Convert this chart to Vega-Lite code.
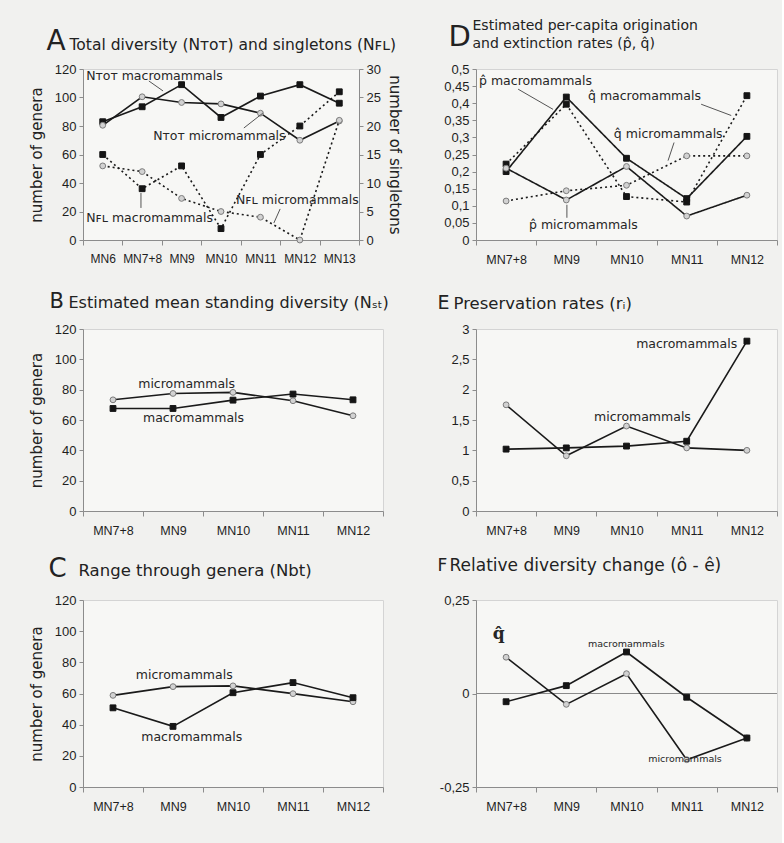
{
"$schema": "https://vega.github.io/schema/vega-lite/v6.json",
"background": "#f1f1ef",
"padding": {"left": 28, "top": 17, "right": 4, "bottom": 41},
"autosize": {"type": "pad"},
"bounds": "flush",
"columns": 2,
"spacing": {"row": 89, "column": 93},
"datasets": {
"A": [
{"period":"MN6","measure":"NTOT","taxon":"macro","value":83},
{"period":"MN7+8","measure":"NTOT","taxon":"macro","value":93.5},
{"period":"MN9","measure":"NTOT","taxon":"macro","value":109},
{"period":"MN10","measure":"NTOT","taxon":"macro","value":86},
{"period":"MN11","measure":"NTOT","taxon":"macro","value":101},
{"period":"MN12","measure":"NTOT","taxon":"macro","value":109},
{"period":"MN13","measure":"NTOT","taxon":"macro","value":96},
{"period":"MN6","measure":"NTOT","taxon":"micro","value":80.5},
{"period":"MN7+8","measure":"NTOT","taxon":"micro","value":100.5},
{"period":"MN9","measure":"NTOT","taxon":"micro","value":96.5},
{"period":"MN10","measure":"NTOT","taxon":"micro","value":95.5},
{"period":"MN11","measure":"NTOT","taxon":"micro","value":89},
{"period":"MN12","measure":"NTOT","taxon":"micro","value":70},
{"period":"MN13","measure":"NTOT","taxon":"micro","value":83.5},
{"period":"MN6","measure":"NFL","taxon":"macro","value":15},
{"period":"MN7+8","measure":"NFL","taxon":"macro","value":9},
{"period":"MN9","measure":"NFL","taxon":"macro","value":13},
{"period":"MN10","measure":"NFL","taxon":"macro","value":2},
{"period":"MN11","measure":"NFL","taxon":"macro","value":15},
{"period":"MN12","measure":"NFL","taxon":"macro","value":20},
{"period":"MN13","measure":"NFL","taxon":"macro","value":26},
{"period":"MN6","measure":"NFL","taxon":"micro","value":13},
{"period":"MN7+8","measure":"NFL","taxon":"micro","value":12},
{"period":"MN9","measure":"NFL","taxon":"micro","value":7.3},
{"period":"MN10","measure":"NFL","taxon":"micro","value":5},
{"period":"MN11","measure":"NFL","taxon":"micro","value":4},
{"period":"MN12","measure":"NFL","taxon":"micro","value":0},
{"period":"MN13","measure":"NFL","taxon":"micro","value":21}
],
"A_ann": [
{"u":0.08,"v":115,"label":"Nᴛᴏᴛ macromammals"},
{"u":1.78,"v":73,"label":"Nᴛᴏᴛ micromammals"},
{"u":0.08,"v":15.4,"label":"Nꜰʟ macromammals"},
{"u":3.88,"v":28,"label":"Nꜰʟ micromammals"}
],
"A_lead": [
{"u":1.67,"v":111.6,"u2":2.03,"v2":104.6},
{"u":4.08,"v":78.6,"u2":4.56,"v2":89},
{"u":1.47,"v":33,"u2":1.47,"v2":22.5},
{"u":5.0,"v":21.8,"u2":4.84,"v2":11.9}
],
"D": [
{"period":"MN7+8","rate":"p","taxon":"macro","value":0.2},
{"period":"MN9","rate":"p","taxon":"macro","value":0.418},
{"period":"MN10","rate":"p","taxon":"macro","value":0.239},
{"period":"MN11","rate":"p","taxon":"macro","value":0.121},
{"period":"MN12","rate":"p","taxon":"macro","value":0.303},
{"period":"MN7+8","rate":"q","taxon":"macro","value":0.222},
{"period":"MN9","rate":"q","taxon":"macro","value":0.397},
{"period":"MN10","rate":"q","taxon":"macro","value":0.127},
{"period":"MN11","rate":"q","taxon":"macro","value":0.111},
{"period":"MN12","rate":"q","taxon":"macro","value":0.422},
{"period":"MN7+8","rate":"p","taxon":"micro","value":0.21},
{"period":"MN9","rate":"p","taxon":"micro","value":0.117},
{"period":"MN10","rate":"p","taxon":"micro","value":0.215},
{"period":"MN11","rate":"p","taxon":"micro","value":0.07},
{"period":"MN12","rate":"p","taxon":"micro","value":0.131},
{"period":"MN7+8","rate":"q","taxon":"micro","value":0.114},
{"period":"MN9","rate":"q","taxon":"micro","value":0.144},
{"period":"MN10","rate":"q","taxon":"micro","value":0.16},
{"period":"MN11","rate":"q","taxon":"micro","value":0.246},
{"period":"MN12","rate":"q","taxon":"micro","value":0.246}
],
"D_ann": [
{"u":0.05,"v":0.464,"label":"p̂ macromammals"},
{"u":1.86,"v":0.42,"label":"q̂ macromammals"},
{"u":2.29,"v":0.309,"label":"q̂ micromammals"},
{"u":0.88,"v":0.045,"label":"p̂ micromammals"}
],
"D_lead": [
{"u":0.7,"v":0.441,"u2":1.28,"v2":0.382},
{"u":3.74,"v":0.397,"u2":4.24,"v2":0.364},
{"u":3.29,"v":0.285,"u2":3.19,"v2":0.232},
{"u":1.51,"v":0.103,"u2":1.51,"v2":0.065}
],
"B": [
{"period":"MN7+8","taxon":"micro","value":73.3},
{"period":"MN9","taxon":"micro","value":77.5},
{"period":"MN10","taxon":"micro","value":78.2},
{"period":"MN11","taxon":"micro","value":72.7},
{"period":"MN12","taxon":"micro","value":62.8},
{"period":"MN7+8","taxon":"macro","value":67.6},
{"period":"MN9","taxon":"macro","value":67.6},
{"period":"MN10","taxon":"macro","value":73.1},
{"period":"MN11","taxon":"macro","value":77.1},
{"period":"MN12","taxon":"macro","value":73.3}
],
"B_ann": [
{"u":0.92,"v":83.7,"label":"micromammals"},
{"u":1.0,"v":61.3,"label":"macromammals"}
],
"E": [
{"period":"MN7+8","taxon":"micro","value":1.75},
{"period":"MN9","taxon":"micro","value":0.91},
{"period":"MN10","taxon":"micro","value":1.4},
{"period":"MN11","taxon":"micro","value":1.04},
{"period":"MN12","taxon":"micro","value":1.0},
{"period":"MN7+8","taxon":"macro","value":1.02},
{"period":"MN9","taxon":"macro","value":1.04},
{"period":"MN10","taxon":"macro","value":1.07},
{"period":"MN11","taxon":"macro","value":1.15},
{"period":"MN12","taxon":"macro","value":2.8}
],
"E_ann": [
{"u":2.66,"v":2.75,"label":"macromammals"},
{"u":1.96,"v":1.55,"label":"micromammals"}
],
"C": [
{"period":"MN7+8","taxon":"micro","value":58.8},
{"period":"MN9","taxon":"micro","value":64.4},
{"period":"MN10","taxon":"micro","value":64.9},
{"period":"MN11","taxon":"micro","value":59.9},
{"period":"MN12","taxon":"micro","value":54.7},
{"period":"MN7+8","taxon":"macro","value":50.8},
{"period":"MN9","taxon":"macro","value":38.9},
{"period":"MN10","taxon":"macro","value":60.5},
{"period":"MN11","taxon":"macro","value":67},
{"period":"MN12","taxon":"macro","value":57.3}
],
"C_ann": [
{"u":0.88,"v":71.8,"label":"micromammals"},
{"u":0.97,"v":32,"label":"macromammals"}
],
"F": [
{"period":"MN7+8","taxon":"micro","value":0.097},
{"period":"MN9","taxon":"micro","value":-0.029},
{"period":"MN10","taxon":"micro","value":0.053},
{"period":"MN11","taxon":"micro","value":-0.177},
{"period":"MN12","taxon":"micro","value":-0.119},
{"period":"MN7+8","taxon":"macro","value":-0.022},
{"period":"MN9","taxon":"macro","value":0.021},
{"period":"MN10","taxon":"macro","value":0.111},
{"period":"MN11","taxon":"macro","value":-0.01},
{"period":"MN12","taxon":"macro","value":-0.119}
],
"F_ann": [
{"u":1.86,"v":0.133,"label":"macromammals"},
{"u":2.86,"v":-0.175,"label":"micromammals"}
],
"F_q": [
{"u":0.28,"v":0.16,"label":"q̂"}
]
},
"concat": [
{
"width": 276, "height": 171,
"resolve": {"scale": {"x":"independent","y":"independent"}},
"layer": [
{"data":{"name":"A"},"transform":[{"filter":"datum.measure === 'NTOT'"}],"mark":{"type":"line"},
"encoding":{
"x":{"field":"period","type":"nominal","title":null,"scale":{"type":"band","domain":["MN6","MN7+8","MN9","MN10","MN11","MN12","MN13"],"paddingInner":0,"paddingOuter":0},"axis":{"labelFontSize":12}},
"y":{"field":"value","type":"quantitative","scale":{"domain":[0,120],"nice":false},"axis":{"values":[0,20,40,60,80,100,120],"title":"number of genera","titlePadding":10}},
"detail":{"field":"taxon"},
"order":{"value":null}}},
{"data":{"name":"A"},"transform":[{"filter":"datum.measure === 'NTOT'"}],"mark":{"type":"point","filled":true},
"encoding":{
"x":{"field":"period","type":"nominal","scale":{"type":"band","domain":["MN6","MN7+8","MN9","MN10","MN11","MN12","MN13"],"paddingInner":0,"paddingOuter":0},"axis":null},
"y":{"field":"value","type":"quantitative","scale":{"domain":[0,120],"nice":false},"axis":null},
"shape":{"field":"taxon","type":"nominal","scale":{"domain":["macro","micro"],"range":["square","circle"]},"legend":null},
"fill":{"field":"taxon","type":"nominal","scale":{"domain":["macro","micro"],"range":["#151515","#d2d2d2"]},"legend":null},
"stroke":{"field":"taxon","type":"nominal","scale":{"domain":["macro","micro"],"range":["#151515","#7c7c7c"]},"legend":null}}},
{"data":{"name":"A"},"transform":[{"filter":"datum.measure === 'NFL'"}],"mark":{"type":"line","strokeDash":[2,3]},
"encoding":{
"x":{"field":"period","type":"nominal","scale":{"type":"band","domain":["MN6","MN7+8","MN9","MN10","MN11","MN12","MN13"],"paddingInner":0,"paddingOuter":0},"axis":null},
"y":{"field":"value","type":"quantitative","scale":{"domain":[0,30],"nice":false},"axis":{"orient":"right","values":[0,5,10,15,20,25,30],"title":"number of singletons","titlePadding":6}},
"detail":{"field":"taxon"},
"order":{"value":null}}},
{"data":{"name":"A"},"transform":[{"filter":"datum.measure === 'NFL'"}],"mark":{"type":"point","filled":true},
"encoding":{
"x":{"field":"period","type":"nominal","scale":{"type":"band","domain":["MN6","MN7+8","MN9","MN10","MN11","MN12","MN13"],"paddingInner":0,"paddingOuter":0},"axis":null},
"y":{"field":"value","type":"quantitative","scale":{"domain":[0,30],"nice":false},"axis":null},
"shape":{"field":"taxon","type":"nominal","scale":{"domain":["macro","micro"],"range":["square","circle"]},"legend":null},
"fill":{"field":"taxon","type":"nominal","scale":{"domain":["macro","micro"],"range":["#151515","#d2d2d2"]},"legend":null},
"stroke":{"field":"taxon","type":"nominal","scale":{"domain":["macro","micro"],"range":["#151515","#7c7c7c"]},"legend":null}}},
{"data":{"name":"A_lead"},"mark":{"type":"rule"},
"encoding":{
"x":{"field":"u","type":"quantitative","scale":{"domain":[0,7],"nice":false,"zero":false},"axis":null},
"y":{"field":"v","type":"quantitative","scale":{"domain":[0,120],"nice":false},"axis":null},
"x2":{"field":"u2"},"y2":{"field":"v2"}}},
{"data":{"name":"A_ann"},"mark":{"type":"text"},
"encoding":{
"x":{"field":"u","type":"quantitative","scale":{"domain":[0,7],"nice":false,"zero":false},"axis":{"orient":"top","labels":false,"ticks":false,"domain":false,"title":"Total diversity (Nᴛᴏᴛ) and singletons (Nꜰʟ)","titleX":-14,"titleY":-20,"titleFontSize":15.5,"titleAlign":"left","titleBaseline":"alphabetic","titleAngle":0}},
"y":{"field":"v","type":"quantitative","scale":{"domain":[0,120],"nice":false},"axis":{"orient":"left","labels":false,"ticks":false,"domain":false,"title":"A","titleX":-37,"titleY":-20,"titleFontSize":28,"titleAlign":"left","titleBaseline":"alphabetic","titleAngle":0}},
"text":{"field":"label"}}}
]
},
{
"width": 301, "height": 171,
"resolve": {"scale": {"x":"independent","y":"independent"}},
"layer": [
{"data":{"name":"D"},"mark":{"type":"line"},
"encoding":{
"x":{"field":"period","type":"nominal","title":null,"scale":{"type":"band","domain":["MN7+8","MN9","MN10","MN11","MN12"],"paddingInner":0,"paddingOuter":0}},
"y":{"field":"value","type":"quantitative","scale":{"domain":[0,0.5],"nice":false},"axis":{"values":[0,0.05,0.1,0.15,0.2,0.25,0.3,0.35,0.4,0.45,0.5],"labelExpr":"replace(replace(format(datum.value, '.2~f'), '.', ','), '−', '-')","title":null}},
"strokeDash":{"field":"rate","type":"nominal","scale":{"domain":["p","q"],"range":[[1,0],[2,3]]},"legend":null},
"detail":{"field":"taxon"},
"order":{"value":null}}},
{"data":{"name":"D"},"mark":{"type":"point","filled":true},
"encoding":{
"x":{"field":"period","type":"nominal","scale":{"type":"band","domain":["MN7+8","MN9","MN10","MN11","MN12"],"paddingInner":0,"paddingOuter":0},"axis":null},
"y":{"field":"value","type":"quantitative","scale":{"domain":[0,0.5],"nice":false},"axis":null},
"shape":{"field":"taxon","type":"nominal","scale":{"domain":["macro","micro"],"range":["square","circle"]},"legend":null},
"fill":{"field":"taxon","type":"nominal","scale":{"domain":["macro","micro"],"range":["#151515","#d2d2d2"]},"legend":null},
"stroke":{"field":"taxon","type":"nominal","scale":{"domain":["macro","micro"],"range":["#151515","#7c7c7c"]},"legend":null}}},
{"data":{"name":"D_lead"},"mark":{"type":"rule"},
"encoding":{
"x":{"field":"u","type":"quantitative","scale":{"domain":[0,5],"nice":false,"zero":false},"axis":null},
"y":{"field":"v","type":"quantitative","scale":{"domain":[0,0.5],"nice":false},"axis":null},
"x2":{"field":"u2"},"y2":{"field":"v2"}}},
{"data":{"name":"D_ann"},"mark":{"type":"text"},
"encoding":{
"x":{"field":"u","type":"quantitative","scale":{"domain":[0,5],"nice":false,"zero":false},"axis":{"orient":"top","labels":false,"ticks":false,"domain":false,"title":["Estimated per-capita origination","and extinction rates (p̂, q̂)"],"titleX":-4,"titleY":-40,"titleFontSize":14,"titleLineHeight":18,"titleAlign":"left","titleBaseline":"alphabetic","titleAngle":0}},
"y":{"field":"v","type":"quantitative","scale":{"domain":[0,0.5],"nice":false},"axis":{"orient":"left","labels":false,"ticks":false,"domain":false,"title":"D","titleX":-28,"titleY":-24,"titleFontSize":29,"titleAlign":"left","titleBaseline":"alphabetic","titleAngle":0}},
"text":{"field":"label"}}}
]
},
{
"width": 300, "height": 182,
"resolve": {"scale": {"x":"independent","y":"independent"}},
"layer": [
{"data":{"name":"B"},"mark":{"type":"line"},
"encoding":{
"x":{"field":"period","type":"nominal","title":null,"scale":{"type":"band","domain":["MN7+8","MN9","MN10","MN11","MN12"],"paddingInner":0,"paddingOuter":0}},
"y":{"field":"value","type":"quantitative","scale":{"domain":[0,120],"nice":false},"axis":{"values":[0,20,40,60,80,100,120],"title":"number of genera","titlePadding":10}},
"detail":{"field":"taxon"},
"order":{"value":null}}},
{"data":{"name":"B"},"mark":{"type":"point","filled":true},
"encoding":{
"x":{"field":"period","type":"nominal","scale":{"type":"band","domain":["MN7+8","MN9","MN10","MN11","MN12"],"paddingInner":0,"paddingOuter":0},"axis":null},
"y":{"field":"value","type":"quantitative","scale":{"domain":[0,120],"nice":false},"axis":null},
"shape":{"field":"taxon","type":"nominal","scale":{"domain":["macro","micro"],"range":["square","circle"]},"legend":null},
"fill":{"field":"taxon","type":"nominal","scale":{"domain":["macro","micro"],"range":["#151515","#d2d2d2"]},"legend":null},
"stroke":{"field":"taxon","type":"nominal","scale":{"domain":["macro","micro"],"range":["#151515","#7c7c7c"]},"legend":null}}},
{"data":{"name":"B_ann"},"mark":{"type":"text"},
"encoding":{
"x":{"field":"u","type":"quantitative","scale":{"domain":[0,5],"nice":false,"zero":false},"axis":{"orient":"top","labels":false,"ticks":false,"domain":false,"title":"Estimated mean standing diversity (Nₛₜ)","titleX":-15,"titleY":-22,"titleFontSize":16,"titleAlign":"left","titleBaseline":"alphabetic","titleAngle":0}},
"y":{"field":"v","type":"quantitative","scale":{"domain":[0,120],"nice":false},"axis":{"orient":"left","labels":false,"ticks":false,"domain":false,"title":"B","titleX":-34,"titleY":-22,"titleFontSize":21,"titleAlign":"left","titleBaseline":"alphabetic","titleAngle":0}},
"text":{"field":"label"}}}
]
},
{
"width": 301, "height": 182,
"resolve": {"scale": {"x":"independent","y":"independent"}},
"layer": [
{"data":{"name":"E"},"mark":{"type":"line"},
"encoding":{
"x":{"field":"period","type":"nominal","title":null,"scale":{"type":"band","domain":["MN7+8","MN9","MN10","MN11","MN12"],"paddingInner":0,"paddingOuter":0}},
"y":{"field":"value","type":"quantitative","scale":{"domain":[0,3],"nice":false},"axis":{"values":[0,0.5,1,1.5,2,2.5,3],"labelExpr":"replace(replace(format(datum.value, '.1~f'), '.', ','), '−', '-')","title":null}},
"detail":{"field":"taxon"},
"order":{"value":null}}},
{"data":{"name":"E"},"mark":{"type":"point","filled":true},
"encoding":{
"x":{"field":"period","type":"nominal","scale":{"type":"band","domain":["MN7+8","MN9","MN10","MN11","MN12"],"paddingInner":0,"paddingOuter":0},"axis":null},
"y":{"field":"value","type":"quantitative","scale":{"domain":[0,3],"nice":false},"axis":null},
"shape":{"field":"taxon","type":"nominal","scale":{"domain":["macro","micro"],"range":["square","circle"]},"legend":null},
"fill":{"field":"taxon","type":"nominal","scale":{"domain":["macro","micro"],"range":["#151515","#d2d2d2"]},"legend":null},
"stroke":{"field":"taxon","type":"nominal","scale":{"domain":["macro","micro"],"range":["#151515","#7c7c7c"]},"legend":null}}},
{"data":{"name":"E_ann"},"mark":{"type":"text"},
"encoding":{
"x":{"field":"u","type":"quantitative","scale":{"domain":[0,5],"nice":false,"zero":false},"axis":{"orient":"top","labels":false,"ticks":false,"domain":false,"title":"Preservation rates (rᵢ)","titleX":-23,"titleY":-21,"titleFontSize":16.5,"titleAlign":"left","titleBaseline":"alphabetic","titleAngle":0}},
"y":{"field":"v","type":"quantitative","scale":{"domain":[0,3],"nice":false},"axis":{"orient":"left","labels":false,"ticks":false,"domain":false,"title":"E","titleX":-39,"titleY":-21,"titleFontSize":19,"titleAlign":"left","titleBaseline":"alphabetic","titleAngle":0}},
"text":{"field":"label"}}}
]
},
{
"width": 300, "height": 187,
"resolve": {"scale": {"x":"independent","y":"independent"}},
"layer": [
{"data":{"name":"C"},"mark":{"type":"line"},
"encoding":{
"x":{"field":"period","type":"nominal","title":null,"scale":{"type":"band","domain":["MN7+8","MN9","MN10","MN11","MN12"],"paddingInner":0,"paddingOuter":0}},
"y":{"field":"value","type":"quantitative","scale":{"domain":[0,120],"nice":false},"axis":{"values":[0,20,40,60,80,100,120],"title":"number of genera","titlePadding":10}},
"detail":{"field":"taxon"},
"order":{"value":null}}},
{"data":{"name":"C"},"mark":{"type":"point","filled":true},
"encoding":{
"x":{"field":"period","type":"nominal","scale":{"type":"band","domain":["MN7+8","MN9","MN10","MN11","MN12"],"paddingInner":0,"paddingOuter":0},"axis":null},
"y":{"field":"value","type":"quantitative","scale":{"domain":[0,120],"nice":false},"axis":null},
"shape":{"field":"taxon","type":"nominal","scale":{"domain":["macro","micro"],"range":["square","circle"]},"legend":null},
"fill":{"field":"taxon","type":"nominal","scale":{"domain":["macro","micro"],"range":["#151515","#d2d2d2"]},"legend":null},
"stroke":{"field":"taxon","type":"nominal","scale":{"domain":["macro","micro"],"range":["#151515","#7c7c7c"]},"legend":null}}},
{"data":{"name":"C_ann"},"mark":{"type":"text"},
"encoding":{
"x":{"field":"u","type":"quantitative","scale":{"domain":[0,5],"nice":false,"zero":false},"axis":{"orient":"top","labels":false,"ticks":false,"domain":false,"title":"Range through genera (Nbt)","titleX":-5,"titleY":-25,"titleFontSize":16.5,"titleAlign":"left","titleBaseline":"alphabetic","titleAngle":0}},
"y":{"field":"v","type":"quantitative","scale":{"domain":[0,120],"nice":false},"axis":{"orient":"left","labels":false,"ticks":false,"domain":false,"title":"C","titleX":-35,"titleY":-24,"titleFontSize":26,"titleAlign":"left","titleBaseline":"alphabetic","titleAngle":0}},
"text":{"field":"label"}}}
]
},
{
"width": 301, "height": 187,
"resolve": {"scale": {"x":"independent","y":"independent"}},
"layer": [
{"data":{"name":"F"},"mark":{"type":"rule","color":"#8a8a8a"},
"encoding":{
"y":{"datum":0,"type":"quantitative","scale":{"domain":[-0.25,0.25],"nice":false},"axis":null}}},
{"data":{"name":"F"},"mark":{"type":"line"},
"encoding":{
"x":{"field":"period","type":"nominal","title":null,"scale":{"type":"band","domain":["MN7+8","MN9","MN10","MN11","MN12"],"paddingInner":0,"paddingOuter":0}},
"y":{"field":"value","type":"quantitative","scale":{"domain":[-0.25,0.25],"nice":false},"axis":{"values":[-0.25,0,0.25],"labelExpr":"replace(replace(format(datum.value, '.2~f'), '.', ','), '−', '-')","title":null}},
"detail":{"field":"taxon"},
"order":{"value":null}}},
{"data":{"name":"F"},"mark":{"type":"point","filled":true},
"encoding":{
"x":{"field":"period","type":"nominal","scale":{"type":"band","domain":["MN7+8","MN9","MN10","MN11","MN12"],"paddingInner":0,"paddingOuter":0},"axis":null},
"y":{"field":"value","type":"quantitative","scale":{"domain":[-0.25,0.25],"nice":false},"axis":null},
"shape":{"field":"taxon","type":"nominal","scale":{"domain":["macro","micro"],"range":["square","circle"]},"legend":null},
"fill":{"field":"taxon","type":"nominal","scale":{"domain":["macro","micro"],"range":["#151515","#d2d2d2"]},"legend":null},
"stroke":{"field":"taxon","type":"nominal","scale":{"domain":["macro","micro"],"range":["#151515","#7c7c7c"]},"legend":null}}},
{"data":{"name":"F_q"},"mark":{"type":"text","font":"DejaVu Serif","fontWeight":"bold","fontSize":17},
"encoding":{
"x":{"field":"u","type":"quantitative","scale":{"domain":[0,5],"nice":false,"zero":false},"axis":null},
"y":{"field":"v","type":"quantitative","scale":{"domain":[-0.25,0.25],"nice":false},"axis":null},
"text":{"field":"label"}}},
{"data":{"name":"F_ann"},"mark":{"type":"text","fontSize":9.5},
"encoding":{
"x":{"field":"u","type":"quantitative","scale":{"domain":[0,5],"nice":false,"zero":false},"axis":{"orient":"top","labels":false,"ticks":false,"domain":false,"title":"Relative diversity change (ô - ê)","titleX":-27,"titleY":-30,"titleFontSize":17,"titleAlign":"left","titleBaseline":"alphabetic","titleAngle":0}},
"y":{"field":"v","type":"quantitative","scale":{"domain":[-0.25,0.25],"nice":false},"axis":{"orient":"left","labels":false,"ticks":false,"domain":false,"title":"F","titleX":-39,"titleY":-30,"titleFontSize":17,"titleAlign":"left","titleBaseline":"alphabetic","titleAngle":0}},
"text":{"field":"label"}}}
]
}
],
"config": {
"view": {"fill":"#f7f7f5","stroke":"#d4d4d4","strokeWidth":1},
"font": "DejaVu Sans",
"axis": {"domainColor":"#8c8c8c","tickColor":"#8c8c8c","grid":false,"labelFont":"Liberation Sans","labelFontSize":13,"labelColor":"#1e1e1e","labelOverlap":false,"titleFont":"DejaVu Sans","titleFontWeight":"normal","titleFontSize":15,"titleColor":"#222222"},
"axisX": {"labelAngle":0,"tickBand":"extent","tickSize":5,"labelPadding":8,"labelFontSize":12.5},
"axisY": {"tickSize":4,"labelPadding":3},
"line": {"color":"#1a1a1a","strokeWidth":1.6},
"point": {"size":34,"opacity":1,"strokeWidth":1},
"text": {"font":"DejaVu Sans","fontSize":12.5,"color":"#262626","align":"left","baseline":"middle"},
"rule": {"color":"#555555","strokeWidth":1}
}
}
